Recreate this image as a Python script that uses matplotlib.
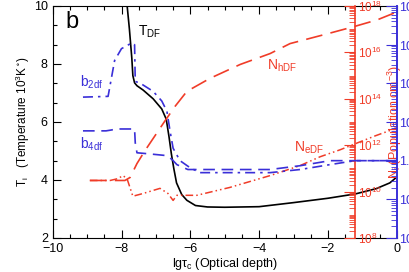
import numpy as np
import matplotlib
matplotlib.use('Agg')
import matplotlib.pyplot as plt
from matplotlib.ticker import AutoMinorLocator, LogLocator, FuncFormatter, NullFormatter

plt.rcParams['font.family'] = ['Liberation Sans', 'DejaVu Sans']
plt.rcParams['mathtext.fontset'] = 'custom'
plt.rcParams['mathtext.rm'] = 'Liberation Sans'
plt.rcParams['mathtext.it'] = 'Liberation Sans:italic'
plt.rcParams['mathtext.default'] = 'regular'

RED = '#f03c28'
BLUE = '#3a2fd8'

# T_DF, temperature in 10^3 K (left axis)
x_T = [-7.86, -7.77, -7.70, -7.67, -7.62, -7.55, -7.37, -7.08, -6.83, -6.70, -6.62, -6.55,
       -6.48, -6.40, -6.25, -6.10, -5.85, -5.5, -5.0, -4.0, -3.0, -2.0, -1.2, -0.6, -0.2, 0.0]
T_DF = [10.3, 9.2, 8.2, 7.6, 7.35, 7.25, 7.1, 6.8, 6.45, 6.1, 5.5, 4.9,
        4.4, 3.9, 3.5, 3.3, 3.12, 3.07, 3.06, 3.08, 3.22, 3.37, 3.52, 3.7, 3.9, 4.1]

# departure coefficients (blue log axis)
x_b2 = [-9.12, -8.39, -8.20, -8.00, -7.85, -7.70, -7.62, -7.60, -7.45, -7.08, -6.83, -6.68,
        -6.59, -6.50, -6.30, -6.01, -5.72, -4.85, -3.68, -2.81, -1.94, -1.21, 0.0]
b_2df = [44, 46, 390, 790, 930, 1120, 1000, 112, 100, 62, 35, 19,
         5.9, 2.1, 1.0, 0.66, 0.49, 0.49, 0.49, 0.59, 0.79, 1.0, 1.0]

x_b4 = [-9.12, -8.45, -8.30, -8.15, -7.90, -7.62, -7.60, -7.55, -7.20, -6.68, -6.53, -6.39,
        -6.07, -4.85, -3.68, -2.81, -1.94, -1.21, 0.0]
b_4df = [5.9, 5.9, 6.2, 6.6, 6.6, 6.6, 2.9, 1.6, 1.5, 1.35, 1.07, 0.79,
         0.59, 0.59, 0.59, 0.74, 1.0, 1.0, 1.0]

# populations (red log axis), log10 cm^-3
x_nh = [-8.92, -7.90, -7.75, -7.55, -7.32, -7.03, -6.74, -6.44, -6.10, -5.43, -4.55, -3.68,
        -3.10, -2.02, -1.27, -0.57, 0.0]
lgN_hDF = [10.48, 10.48, 10.61, 11.21, 11.76, 12.40, 13.04, 13.68, 14.32, 14.88, 15.48, 15.95,
           16.38, 16.80, 17.10, 17.40, 17.74]

x_ne = [-8.92, -8.33, -8.10, -7.96, -7.84, -7.67, -7.37, -6.88, -6.65, -6.50, -6.39, -5.81,
        -4.85, -3.68, -2.81, -2.23, -1.65, -1.21, -0.63, 0.0]
lgN_eDF = [10.48, 10.48, 10.56, 10.69, 10.56, 9.80, 9.92, 10.14, 9.92, 9.62, 9.84, 9.84,
           10.18, 10.69, 11.12, 11.50, 11.80, 12.06, 12.40, 12.74]

fig = plt.figure(figsize=(4.09, 2.72), dpi=100)
ax = fig.add_axes([52.7 / 409, 34 / 272, 344 / 409, 232 / 272])
ax.set_xlim(-10, 0)
ax.set_ylim(2, 10)
ax.set_xticks([-10, -8, -6, -4, -2, 0])
ax.set_xticklabels(['\u221210', '\u22128', '\u22126', '\u22124', '\u22122', '0'])
ax.set_yticks([2, 4, 6, 8, 10])
ax.xaxis.set_minor_locator(AutoMinorLocator(4))
ax.yaxis.set_minor_locator(AutoMinorLocator(3))
ax.tick_params(which='both', direction='in', top=True, right=False, labelsize=9, width=0.8)
ax.tick_params(which='major', length=6)
ax.tick_params(which='minor', length=3)
ax.spines['right'].set_visible(False)
ax.plot(x_T, T_DF, color='black', lw=1.2, zorder=5)
ax.set_xlabel('lg\u03c4$_c$ (Optical depth)', fontsize=9, labelpad=1)
ax.set_ylabel('T$_i$   (Temperature 10$^3$K$^\\circ$)', fontsize=8.5, labelpad=1)

ax.text(-9.44, 9.45, 'b', fontsize=17, ha='center', va='center')
ax.text(-7.52, 9.1, 'T$_{DF}$', fontsize=10, ha='left', va='center')
ax.text(-9.2, 7.38, 'b$_{2df}$', fontsize=10, ha='left', va='center', color=BLUE)
ax.text(-9.2, 5.24, 'b$_{4df}$', fontsize=10, ha='left', va='center', color=BLUE)
ax.text(-3.77, 7.95, 'N$_{hDF}$', fontsize=10, ha='left', va='center', color=RED)
ax.text(-3.0, 5.1, 'N$_{eDF}$', fontsize=10, ha='left', va='center', color=RED)

# red population axis, sitting inside the frame
axr = ax.twinx()
axr.set_yscale('log')
axr.set_ylim(1e8, 1e18)
for s in ['top', 'bottom', 'left']:
    axr.spines[s].set_visible(False)
axr.spines['right'].set_position(('axes', (355 - 52.7) / 344))
axr.spines['right'].set_color(RED)
axr.spines['right'].set_linewidth(1.2)
axr.yaxis.set_major_locator(LogLocator(base=100))
axr.yaxis.set_minor_locator(LogLocator(base=10, subs=np.arange(1, 10), numticks=30))
axr.yaxis.set_major_formatter(FuncFormatter(lambda v, p: '$10^{%d}$' % round(np.log10(v))))
axr.yaxis.set_minor_formatter(NullFormatter())
axr.tick_params(which='both', direction='in', colors=RED, labelsize=8.5, pad=2)
axr.tick_params(which='major', length=8)
axr.tick_params(which='minor', length=4)
axr.plot(x_nh, 10 ** np.array(lgN_hDF), color=RED, lw=1.2, dashes=(10, 5))
axr.plot(x_ne, 10 ** np.array(lgN_eDF), color=RED, lw=1.1, dashes=(5, 2, 1, 2, 1, 2))
axr.set_ylabel('N$_i$ (Population cm$^{-3}$)', color=RED, fontsize=9, labelpad=3)

# blue departure-coefficient axis on the right edge
axb = ax.twinx()
axb.set_yscale('log')
axb.set_ylim(1e-2, 1e4)
for s in ['top', 'bottom', 'left']:
    axb.spines[s].set_visible(False)
axb.spines['right'].set_color(BLUE)
axb.spines['right'].set_linewidth(1.4)
axb.yaxis.set_major_locator(LogLocator(base=10))
axb.yaxis.set_minor_locator(LogLocator(base=10, subs=np.arange(2, 10), numticks=30))
axb.yaxis.set_major_formatter(FuncFormatter(
    lambda v, p: '1.0' if abs(v - 1) < 1e-9 else '$10^{%d}$' % round(np.log10(v))))
axb.yaxis.set_minor_formatter(NullFormatter())
axb.tick_params(which='both', direction='in', colors=BLUE, labelsize=9, pad=2)
axb.tick_params(which='major', length=8)
axb.tick_params(which='minor', length=4)
axb.plot(x_b2, b_2df, color=BLUE, lw=1.2, dashes=(6, 3, 1.5, 3))
axb.plot(x_b4, b_4df, color=BLUE, lw=1.2, dashes=(7, 4))

fig.savefig('out.png', dpi=100)
